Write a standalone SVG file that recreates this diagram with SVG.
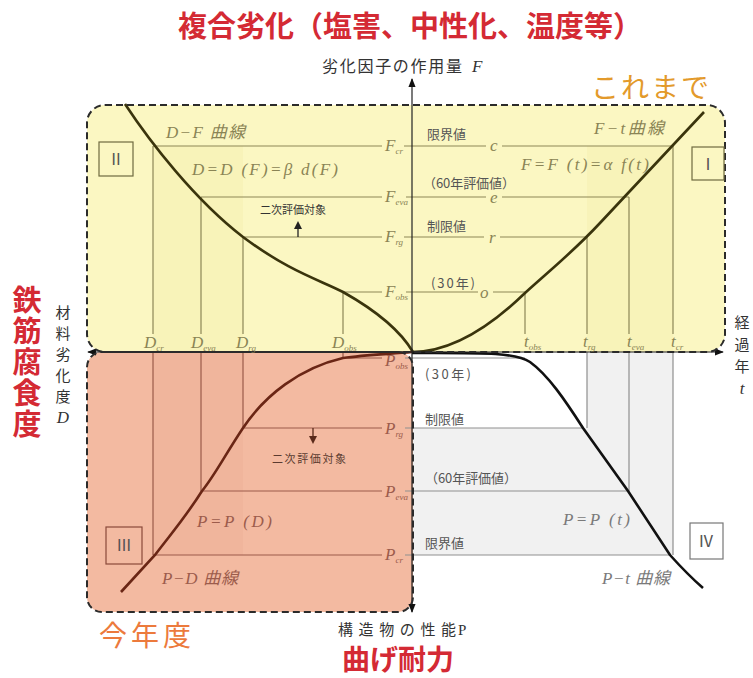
<svg xmlns="http://www.w3.org/2000/svg" width="753" height="678" viewBox="0 0 753 678">
<defs>
<marker id="ah" viewBox="0 0 10 10" refX="9" refY="5" markerWidth="9" markerHeight="9" markerUnits="userSpaceOnUse" orient="auto-start-reverse"><path d="M0,1 L10,5 L0,9 z" fill="#111"/></marker>
</defs>
<style>
.dash{fill:none;stroke:#2b2b2b;stroke-width:2;stroke-dasharray:7 4}
.ax{stroke:#222;stroke-width:1.2;fill:none}
.gy{stroke:#8d8757;stroke-width:1.2;fill:none}
.gr{stroke:#9b5b4a;stroke-width:1.2;fill:none}
.gg{stroke:#8f8f8f;stroke-width:1.2;fill:none}
.cy{stroke:#3a340c;stroke-width:2.6;fill:none}
.cr{stroke:#6a2615;stroke-width:2.6;fill:none}
.ck{stroke:#111;stroke-width:2.6;fill:none}
.mi{font-family:"Liberation Serif","Noto Sans CJK JP",serif;font-style:italic;font-size:17px}
.ty{fill:#8a8455}
.tr{fill:#9c5c4c}
.tk{fill:#7a7a7a}
.jp{font-family:"Noto Sans CJK JP",sans-serif}
.sm{font-size:13px;fill:#555}
.sub{font-size:9px}
.box{fill:none;stroke-width:1.2}
.num{font-family:"Noto Sans CJK JP",sans-serif;font-size:16px;fill:#555;text-anchor:middle}
</style>

<g id="regions">
<rect x="87" y="105" width="638" height="247" rx="18" fill="#fbf7c2"/>
<rect x="153" y="146" width="90" height="206" fill="#f8f3b9"/>
<rect x="587" y="146" width="86" height="206" fill="#f8f3b9"/>
<rect x="87" y="352" width="326" height="260" rx="15" fill="#f3baa1"/>
<rect x="153" y="352" width="90" height="203" fill="#f0b59c"/>
<rect x="413" y="352" width="260" height="203" fill="#f1f1f1"/>
<rect x="413" y="353" width="174" height="75" fill="#ffffff"/>
</g>

<g id="guides">
<path class="gy" d="M153,146H382M404,146H486M502,146H673M201,197H382M406,197H486M502,197H629M243,237H382M404,237H484M500,237H587M343,292H382M406,292H478M493,292H525"/>
<path class="gy" d="M153,146V334M201,197V334M243,237V334M343,292V334M525,292V334M587,237V334M629,197V334M673,146V334"/>
<path class="gr" d="M153,352V555M201,352V491M243,352V428M343,352V358M343,358H382M243,428H382M201,491H382M153,555H382"/>
<path class="gg" d="M405,358H525M405,428H583M405,491H628M405,555H670M587,352V428M629,352V491M673,352V555"/>
</g>

<g id="curves">
<path id="curve-DF" class="cy" d="M125,104 C150,142 195,200 243,237 C290,272 320,280 343,292 C375,310 400,330 413,352"/>
<path id="curve-Ft" class="cy" d="M412,352 C455,352 495,322 525,293 C555,266 575,250 600,223 L704,112"/>
<path id="curve-PD" class="cr" d="M412,352 C390,354 365,355 343,358 C300,368 265,395 243,428 C225,455 215,475 202,491 C185,518 170,535 155,555 L121,592"/>
<path id="curve-Pt" class="ck" d="M412,353 C480,353 515,352 530,362 C548,375 565,400 583,428 L628,491 L670,555 Q688,575 703,588"/>
</g>

<g id="axes">
<line class="ax" x1="412" y1="612" x2="412" y2="79" marker-start="url(#ah)" marker-end="url(#ah)"/>
<line class="ax" x1="88" y1="352" x2="723" y2="352" marker-start="url(#ah)" marker-end="url(#ah)"/>
<rect class="dash" x="87" y="105" width="638" height="247" rx="18"/>
<rect class="dash" x="87" y="352" width="326" height="260" rx="15"/>
</g>

<g id="arrows2">
<path d="M298,237V228" stroke="#222" stroke-width="1.3"/>
<polygon points="298,221 294,229 302,229" fill="#222"/>
<path d="M313,428V437" stroke="#5a2a1a" stroke-width="1.3"/>
<polygon points="313,444 309,436 317,436" fill="#5a2a1a"/>
</g>

<g id="quad1">
<rect class="box" x="692" y="147" width="32" height="33" stroke="#6f6a40"/>
<text class="num" x="708" y="170">Ⅰ</text>
<text class="jp sm" x="427" y="139">限界値</text>
<text class="mi ty" x="490" y="151">c</text>
<text class="mi ty" x="594" y="134" textLength="70">F−t曲線</text>
<text class="mi ty" x="521" y="170" textLength="128">F=F (t)=α f(t)</text>
<text class="jp sm" x="423" y="188" textLength="92">（60年評価値）</text>
<text class="mi ty" x="490" y="203">e</text>
<text class="jp sm" x="427" y="231">制限値</text>
<text class="mi ty" x="489" y="243">r</text>
<text class="jp sm" x="431" y="288" textLength="44">(30年)</text>
<text class="mi ty" x="480" y="298">o</text>
<text class="mi ty" x="524" y="347">t<tspan class="sub" dy="3">obs</tspan></text>
<text class="mi ty" x="583" y="347">t<tspan class="sub" dy="3">rg</tspan></text>
<text class="mi ty" x="627" y="347">t<tspan class="sub" dy="3">eva</tspan></text>
<text class="mi ty" x="671" y="347">t<tspan class="sub" dy="3">cr</tspan></text>
</g>

<g id="quad2">
<rect class="box" x="99" y="142" width="34" height="34" stroke="#6f6a40"/>
<text class="num" x="116" y="165">Ⅱ</text>
<text class="mi ty" x="166" y="138" textLength="79">D−F 曲線</text>
<text class="mi ty" x="192" y="175" textLength="146">D=D (F)=β d(F)</text>
<text class="jp" x="260" y="214" font-size="11" fill="#333" textLength="66">二次評価対象</text>
<text class="mi ty" x="385" y="151">F<tspan class="sub" dy="3">cr</tspan></text>
<text class="mi ty" x="385" y="202">F<tspan class="sub" dy="3">eva</tspan></text>
<text class="mi ty" x="385" y="242">F<tspan class="sub" dy="3">rg</tspan></text>
<text class="mi ty" x="385" y="297">F<tspan class="sub" dy="3">obs</tspan></text>
<text class="mi ty" x="144" y="348">D<tspan class="sub" dy="3">cr</tspan></text>
<text class="mi ty" x="191" y="348">D<tspan class="sub" dy="3">eva</tspan></text>
<text class="mi ty" x="236" y="348">D<tspan class="sub" dy="3">rg</tspan></text>
<text class="mi ty" x="332" y="348">D<tspan class="sub" dy="3">obs</tspan></text>
</g>

<g id="quad3">
<rect class="box" x="106" y="527" width="36" height="37" stroke="#8a4a3a"/>
<text class="num" x="124" y="551">Ⅲ</text>
<text class="jp" x="272" y="463" font-size="11" fill="#5a3a30" textLength="74">二次評価対象</text>
<text class="mi tr" x="197" y="527" textLength="75">P=P (D)</text>
<text class="mi tr" x="162" y="584" textLength="76">P−D 曲線</text>
<text class="mi tr" x="385" y="366">P<tspan class="sub" dy="3">obs</tspan></text>
<text class="mi tr" x="385" y="434">P<tspan class="sub" dy="3">rg</tspan></text>
<text class="mi tr" x="385" y="497">P<tspan class="sub" dy="3">eva</tspan></text>
<text class="mi tr" x="385" y="560">P<tspan class="sub" dy="3">cr</tspan></text>
</g>

<g id="quad4">
<rect class="box" x="690" y="523" width="33" height="36" stroke="#777"/>
<text class="num" x="706" y="547">Ⅳ</text>
<text class="jp sm" x="425" y="379" textLength="46">(30年)</text>
<text class="jp sm" x="425" y="424">制限値</text>
<text class="jp sm" x="425" y="483" textLength="92">（60年評価値）</text>
<text class="mi tk" x="563" y="525" textLength="67">P=P (t)</text>
<text class="jp sm" x="425" y="548">限界値</text>
<text class="mi tk" x="602" y="584" textLength="68">P−t 曲線</text>
</g>

<g id="labels">
<text class="jp" x="410" y="37" font-size="29" font-weight="700" fill="#d42a34" text-anchor="middle">複合劣化（塩害、中性化、温度等）</text>
<text class="jp" x="322" y="72" font-size="16" fill="#333" textLength="140">劣化因子の作用量</text>
<text class="mi" x="472" y="72" fill="#333">F</text>
<text class="jp" x="591" y="98" font-size="28" fill="#e39a2b" textLength="118">これまで</text>
<text class="jp" font-size="29" font-weight="700" fill="#d42a34" text-anchor="middle"><tspan x="27" y="311">鉄</tspan><tspan x="27" y="342">筋</tspan><tspan x="27" y="373">腐</tspan><tspan x="27" y="404">食</tspan><tspan x="27" y="435">度</tspan></text>
<text class="jp" font-size="15" fill="#333" text-anchor="middle"><tspan x="63" y="318">材</tspan><tspan x="63" y="339">料</tspan><tspan x="63" y="360">劣</tspan><tspan x="63" y="381">化</tspan><tspan x="63" y="402">度</tspan></text>
<text class="mi" x="63" y="423" fill="#333" text-anchor="middle">D</text>
<text class="jp" font-size="15" fill="#333" text-anchor="middle"><tspan x="742" y="328">経</tspan><tspan x="742" y="350">過</tspan><tspan x="742" y="372">年</tspan></text>
<text class="mi" x="742" y="394" fill="#333" text-anchor="middle">t</text>
<text class="jp" x="99" y="646" font-size="28" fill="#ec7a3c" textLength="92">今年度</text>
<text class="jp" x="338" y="635" font-size="15" fill="#333" textLength="118">構造物の性能</text>
<text x="458" y="635" font-family="Liberation Serif,serif" font-size="15" fill="#333">P</text>
<text class="jp" x="398" y="670" font-size="28" font-weight="700" fill="#d42a34" text-anchor="middle">曲げ耐力</text>
</g>
</svg>
